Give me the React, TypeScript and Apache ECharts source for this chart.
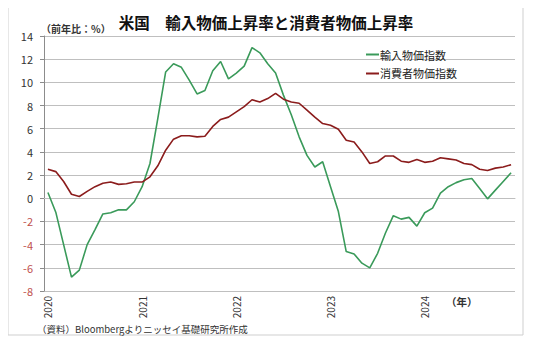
import React, { useEffect, useRef } from "react";
import * as echarts from "echarts";

const years = ["2020", "2021", "2022", "2023", "2024"];
const months = ["01", "02", "03", "04", "05", "06", "07", "08", "09", "10", "11", "12"];
const categories: string[] = [];
years.forEach((y) => months.forEach((m) => categories.push(`${y}-${m}`)));

const importPrices = [
  0.5, -1.2, -4.0, -6.8, -6.2, -4.0, -2.7, -1.35, -1.25, -1.0, -1.0, -0.3,
  1.0, 3.0, 6.9, 10.9, 11.6, 11.3, 10.2, 9.0, 9.3, 11.0, 11.8, 10.3,
  10.8, 11.4, 13.0, 12.55, 11.6, 10.8, 8.9, 7.2, 5.3, 3.7, 2.7, 3.15,
  1.0, -1.15, -4.6, -4.8, -5.6, -6.0, -4.75, -3.0, -1.5, -1.8, -1.65, -2.4,
  -1.25, -0.85, 0.45, 1.0, 1.35, 1.6, 1.7, 0.85, -0.05, 0.7, 1.45, 2.2,
];
const consumerPrices = [
  2.5, 2.3, 1.45, 0.35, 0.15, 0.6, 1.0, 1.3, 1.4, 1.2, 1.25, 1.4,
  1.4, 1.85, 2.8, 4.15, 5.1, 5.4, 5.4, 5.3, 5.35, 6.2, 6.8, 7.0,
  7.45, 7.9, 8.5, 8.3, 8.6, 9.05, 8.55, 8.3, 8.2, 7.6, 7.0, 6.45,
  6.3, 5.95, 5.0, 4.85, 4.0, 3.0, 3.15, 3.65, 3.65, 3.2, 3.1, 3.35,
  3.1, 3.2, 3.5, 3.4, 3.3, 3.0, 2.9, 2.5, 2.4, 2.6, 2.7, 2.9,
];

const seriesNames = ["輸入物価指数", "消費者物価指数"];
const titleText = "米国　輸入物価上昇率と消費者物価上昇率";
const unitText = "（前年比：%）";
const yearUnitText = "（年）";
const sourceText = "（資料）Bloombergよりニッセイ基礎研究所作成";

const FONT = "'Noto Sans CJK JP', 'Noto Sans', sans-serif";

export default function App() {
  const ref = useRef<HTMLDivElement>(null);
  useEffect(() => {
    if (!ref.current) return;
    const chart = echarts.init(ref.current, null, { renderer: "svg" });
    chart.setOption({
      animation: false,
      backgroundColor: "#ffffff",
      textStyle: { fontFamily: FONT },
      graphic: [
        {
          type: "rect",
          shape: { x: 4, y: 4, width: 529, height: 335 },
          style: { fill: "none", stroke: "#8c8c8c", lineWidth: 1.5 },
          silent: true,
        },
        {
          type: "rect",
          shape: { x: 8, y: 7, width: 515, height: 328 },
          style: { fill: "none", stroke: "#cfcfcf", lineWidth: 1 },
          silent: true,
        },
        {
          type: "text",
          x: 266,
          y: 22,
          style: {
            text: titleText,
            fontSize: 15.5,
            fontWeight: "bold",
            fontFamily: FONT,
            fill: "#111",
            align: "center",
            verticalAlign: "middle",
          },
        },
        {
          type: "text",
          x: 41,
          y: 28,
          style: {
            text: unitText,
            fontSize: 10,
            fontWeight: "bold",
            fontFamily: FONT,
            fill: "#333",
            align: "left",
            verticalAlign: "middle",
          },
        },
        {
          type: "text",
          x: 446,
          y: 301,
          style: {
            text: yearUnitText,
            fontSize: 10.5,
            fontWeight: "bold",
            fontFamily: FONT,
            fill: "#333",
            align: "left",
            verticalAlign: "middle",
          },
        },
        {
          type: "text",
          x: 37,
          y: 329,
          style: {
            text: sourceText,
            fontSize: 9.5,
            fontFamily: FONT,
            fill: "#333",
            align: "left",
            verticalAlign: "middle",
          },
        },
      ],
      legend: {
        orient: "vertical",
        left: 361,
        top: 44,
        itemWidth: 13,
        itemHeight: 2,
        itemGap: 8,
        icon: "rect",
        textStyle: { fontSize: 11, color: "#222", fontFamily: FONT, padding: [0, 0, 0, -4] },
        data: seriesNames,
      },
      grid: { left: 44, right: 25, top: 36, bottom: 55, containLabel: false },
      xAxis: {
        type: "category",
        data: categories,
        boundaryGap: true,
        axisLine: { show: true, lineStyle: { color: "#bfbfbf", width: 1 } },
        axisTick: { show: false },
        axisLabel: {
          interval: (idx: number) => idx % 12 === 0,
          formatter: (v: string) => v.slice(0, 4),
          rotate: 90,
          fontSize: 10,
          color: "#333",
          margin: 5,
          fontFamily: FONT,
        },
        splitLine: { show: false },
      },
      yAxis: {
        type: "value",
        min: -8,
        max: 14,
        interval: 2,
        axisLine: { show: true, lineStyle: { color: "#8c8c8c", width: 1 } },
        axisTick: { show: true, length: 4, lineStyle: { color: "#8c8c8c" } },
        axisLabel: {
          fontSize: 11,
          margin: 11,
          fontFamily: FONT,
          color: (val: any) => (Number(val) < 0 ? "#c0504d" : "#333"),
        },
        splitLine: { show: true, lineStyle: { color: "#bfbfbf", width: 1 } },
      },
      series: [
        {
          name: seriesNames[0],
          type: "line",
          data: importPrices,
          symbol: "none",
          lineStyle: { color: "#3a9a5a", width: 1.6 },
          itemStyle: { color: "#3a9a5a" },
        },
        {
          name: seriesNames[1],
          type: "line",
          data: consumerPrices,
          symbol: "none",
          lineStyle: { color: "#8b1c1c", width: 1.6 },
          itemStyle: { color: "#8b1c1c" },
        },
      ],
    });
    return () => chart.dispose();
  }, []);
  return <div ref={ref} style={{ width: 540, height: 346, margin: -8 }} />;
}
